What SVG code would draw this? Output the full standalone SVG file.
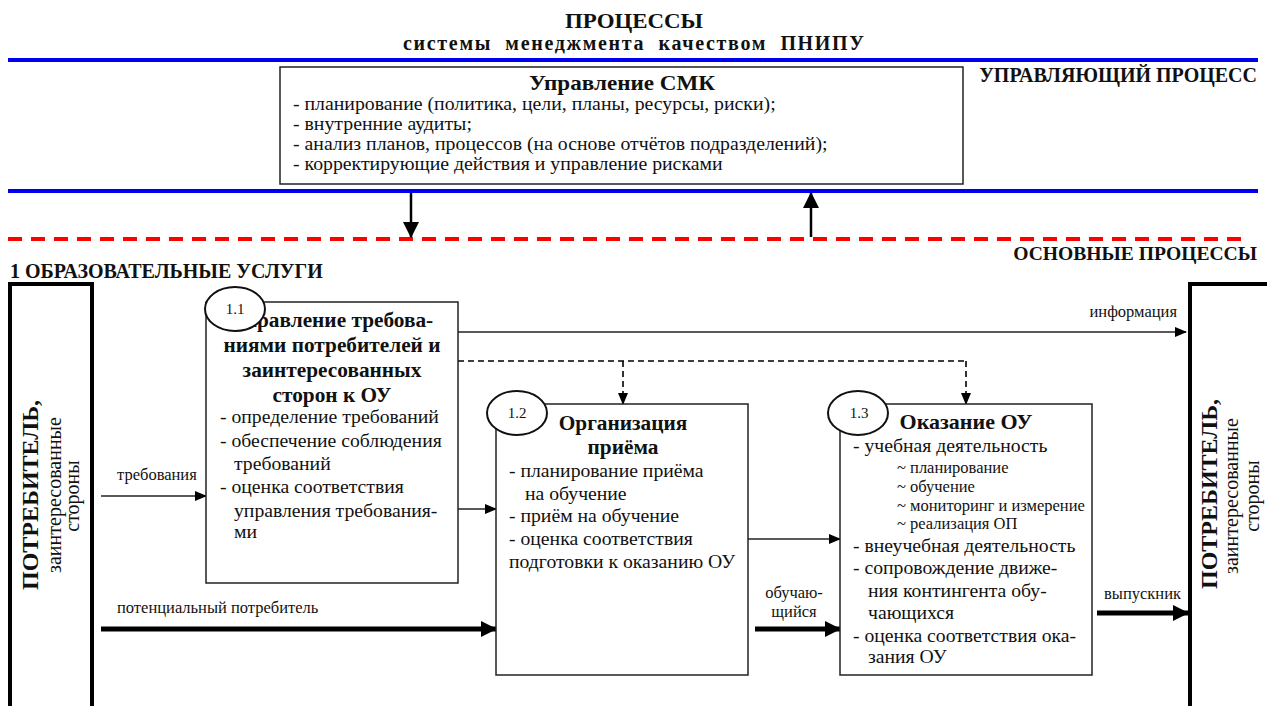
<svg xmlns="http://www.w3.org/2000/svg" width="1267" height="706" viewBox="0 0 1267 706" font-family="'Liberation Serif', 'DejaVu Serif', serif">
<style>
text{fill:#111}
.b{font-weight:bold}
.h{font-size:21.3px;font-weight:bold}
.t{font-size:19.7px}
.s{font-size:16.5px}
.n{font-size:15px}
.l{font-size:16.5px}
.c{text-anchor:middle}
.box{fill:#fff;stroke:#222;stroke-width:1.5}
.num{fill:#fff;stroke:#111;stroke-width:2}
.thin{stroke:#222;stroke-width:1.4;fill:none}
.thick{stroke:#000;stroke-width:5;fill:none}
.dash{stroke:#000;stroke-width:1.6;stroke-dasharray:6 4;fill:none}
.bar{fill:#fff;stroke:#000;stroke-width:4}
</style>
<defs>
<marker id="a" markerUnits="userSpaceOnUse" markerWidth="12" markerHeight="10" refX="11" refY="5" orient="auto"><path d="M0,0 L12,5 L0,10 Z" fill="#000"/></marker>
<marker id="A" markerUnits="userSpaceOnUse" markerWidth="16" markerHeight="16" refX="15" refY="8" orient="auto"><path d="M0,0 L16,8 L0,16 Z" fill="#000"/></marker>
</defs>

<g id="header">
<text class="b" x="565" y="28" font-size="22" textLength="138" lengthAdjust="spacingAndGlyphs">ПРОЦЕССЫ</text>
<text class="b" x="403" y="50" font-size="20" textLength="461" lengthAdjust="spacing" xml:space="preserve">системы  менеджмента  качеством  ПНИПУ</text>
<line x1="8" y1="60" x2="1258" y2="60" stroke="#0000f0" stroke-width="4"/>
<line x1="8" y1="191" x2="1258" y2="191" stroke="#0000f0" stroke-width="4"/>
<line x1="8" y1="239" x2="1250" y2="239" stroke="#f00" stroke-width="4" stroke-dasharray="14 9"/>
<text class="b" x="1257" y="82" font-size="20" text-anchor="end">УПРАВЛЯЮЩИЙ ПРОЦЕСС</text>
<text class="b" x="1257" y="260" font-size="19.6" text-anchor="end">ОСНОВНЫЕ ПРОЦЕССЫ</text>
<text class="b" x="10" y="278" font-size="20">1 ОБРАЗОВАТЕЛЬНЫЕ УСЛУГИ</text>
</g>

<g id="smk">
<rect class="box" x="280" y="67" width="683" height="117"/>
<text class="b" x="529" y="90" font-size="22" textLength="186" lengthAdjust="spacingAndGlyphs">Управление СМК</text>
<text x="293" y="110" font-size="19.8">- планирование (политика, цели, планы, ресурсы, риски);</text>
<text x="293" y="130" font-size="19.8">- внутренние аудиты;</text>
<text x="293" y="150" font-size="19.8">- анализ планов, процессов (на основе отчётов подразделений);</text>
<text x="293" y="170" font-size="19.8">- корректирующие действия и управление рисками</text>
</g>

<g id="consumer-left">
<rect class="bar" x="10" y="284" width="82" height="480"/>
<text class="b c" font-size="24" transform="translate(38,495) rotate(-90)">ПОТРЕБИТЕЛЬ,</text>
<text class="c" font-size="20" transform="translate(61,495) rotate(-90)">заинтересованные</text>
<text class="c" font-size="20" transform="translate(79,496) rotate(-90)">стороны</text>
</g>

<g id="consumer-right">
<rect class="bar" x="1190" y="284" width="100" height="480"/>
<text class="b c" font-size="24" transform="translate(1217,494) rotate(-90)">ПОТРЕБИТЕЛЬ,</text>
<text class="c" font-size="20" transform="translate(1238,496) rotate(-90)">заинтересованные</text>
<text class="c" font-size="20" transform="translate(1259,496) rotate(-90)">стороны</text>
</g>

<g id="connectors">
<line class="thin" x1="101" y1="496" x2="206" y2="496" marker-end="url(#a)"/>
<text class="l" x="117" y="480">требования</text>
<line class="thick" x1="101" y1="629" x2="496" y2="629" marker-end="url(#A)"/>
<text class="l" x="117" y="613">потенциальный потребитель</text>
<line class="thin" x1="458" y1="332" x2="1186" y2="332" marker-end="url(#a)"/>
<text class="l" x="1177" y="317" text-anchor="end">информация</text>
<line class="thin" x1="458" y1="509" x2="496" y2="509" marker-end="url(#a)"/>
<line class="thin" x1="748" y1="539" x2="840" y2="539" marker-end="url(#a)"/>
<line class="thick" x1="755" y1="629" x2="840" y2="629" marker-end="url(#A)"/>
<text class="l c" x="794" y="598">обучаю-</text>
<text class="l c" x="794" y="617">щийся</text>
<line class="thick" x1="1097" y1="613" x2="1188" y2="613" marker-end="url(#A)"/>
<text class="l" x="1181" y="599" text-anchor="end">выпускник</text>
<polyline class="dash" points="458,361 966,361"/>
<line class="dash" x1="623" y1="361" x2="623" y2="404" marker-end="url(#a)"/>
<line class="dash" x1="966" y1="361" x2="966" y2="404" marker-end="url(#a)"/>
<line stroke="#000" stroke-width="2.5" x1="411" y1="193" x2="411" y2="237" marker-end="url(#A)"/>
<line stroke="#000" stroke-width="2.5" x1="811" y1="237" x2="811" y2="193" marker-end="url(#A)"/>
</g>

<g id="node-1-1">
<rect class="box" x="206" y="302" width="252" height="281"/>
<text class="h c" x="332" y="327">Управление требова-</text>
<text class="h c" x="332" y="352">ниями потребителей и</text>
<text class="h c" x="332" y="377">заинтересованных</text>
<text class="h c" x="332" y="402">сторон к ОУ</text>
<text class="t" x="220" y="423">- определение требований</text>
<text class="t" x="220" y="447">- обеспечение соблюдения</text>
<text class="t" x="234" y="470">требований</text>
<text class="t" x="220" y="493">- оценка соответствия</text>
<text class="t" x="234" y="517">управления требования-</text>
<text class="t" x="234" y="538">ми</text>
<ellipse class="num" cx="235" cy="309" rx="30" ry="22"/>
<text class="n c" x="235" y="314">1.1</text>
</g>

<g id="node-1-2">
<rect class="box" x="496" y="404" width="252" height="271"/>
<text class="h c" x="623" y="430">Организация</text>
<text class="h c" x="623" y="454">приёма</text>
<text class="t" x="509" y="477">- планирование приёма</text>
<text class="t" x="525" y="500">на обучение</text>
<text class="t" x="509" y="522">- приём на обучение</text>
<text class="t" x="509" y="545">- оценка соответствия</text>
<text class="t" x="509" y="568" font-size="20.5">подготовки к оказанию ОУ</text>
<ellipse class="num" cx="517" cy="413" rx="30" ry="22"/>
<text class="n c" x="517" y="418">1.2</text>
</g>

<g id="node-1-3">
<rect class="box" x="840" y="404" width="252" height="271"/>
<text class="b c" x="966" y="429" font-size="22">Оказание ОУ</text>
<text class="t" x="853" y="452">- учебная деятельность</text>
<text class="s" x="897" y="473">~ планирование</text>
<text class="s" x="897" y="492">~ обучение</text>
<text class="s" x="897" y="511">~ мониторинг и измерение</text>
<text class="s" x="897" y="529">~ реализация ОП</text>
<text class="t" x="853" y="552">- внеучебная деятельность</text>
<text class="t" x="853" y="574">- сопровождение движе-</text>
<text class="t" x="868" y="597">ния контингента обу-</text>
<text class="t" x="868" y="619">чающихся</text>
<text class="t" x="853" y="642">- оценка соответствия ока-</text>
<text class="t" x="868" y="663">зания ОУ</text>
<ellipse class="num" cx="858" cy="413" rx="30" ry="22"/>
<text class="n c" x="859" y="418">1.3</text>
</g>
</svg>
